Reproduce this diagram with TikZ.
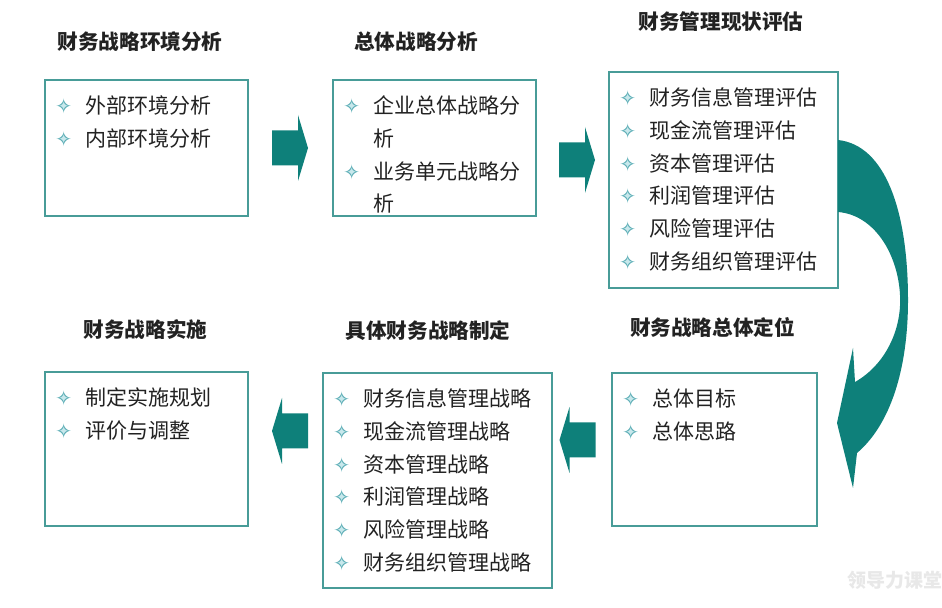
\documentclass[tikz,border=0pt]{standalone}
\usepackage{fontspec}
\setmainfont{Noto Sans CJK SC}
\newfontfamily\symfont{DejaVu Sans}
\usetikzlibrary{calc}

\definecolor{boxline}{RGB}{72,156,152}
\definecolor{arrowfill}{RGB}{14,128,122}
\definecolor{star}{RGB}{90,172,180}
\definecolor{starfill}{RGB}{200,232,236}
\definecolor{ink}{RGB}{34,34,34}

\newcommand\bul{\makebox[15pt][l]{\fontsize{10}{10}\symfont\rlap{\color{starfill}✦}\color{star}✧}}
\newcommand\nobul{\hspace*{15pt}}
\newcommand\listin[2]{%
  \foreach \t [count=\i from 0] in {#2}
    \node[item] (#1-\i) at ([shift={(10,{26+32.8*\i})}]#1.north west) {\t};}

\tikzset{
  box/.style={draw=boxline, line width=1pt, inner sep=0pt, outer sep=0pt, fill=white},
  item/.style={anchor=west, inner sep=0pt, text height=.88em, text depth=.12em,
    text=ink, font=\fontsize{10.5pt}{12pt}\selectfont},
  title/.style={inner sep=0pt, text=ink, font=\fontsize{10.3pt}{12pt}\selectfont\bfseries},
  pics/fwd/.style={code={\fill[arrowfill] (-18,-17.5) -- (8,-17.5) -- (8,-33) -- (18,0)
    -- (8,33) -- (8,17.5) -- (-18,17.5) -- cycle;}},
  pics/back/.style={code={\fill[arrowfill] (18,-17.5) -- (-8,-17.5) -- (-8,-33) -- (-18,0)
    -- (-8,33) -- (-8,17.5) -- (18,17.5) -- cycle;}}
}

\begin{document}
\begin{tikzpicture}[x=0.5pt,y=-0.5pt]
\useasboundingbox[fill=white] (0,0) rectangle (942,608);

% boxes
\node[box, minimum width=101.5pt, minimum height=68pt] (env) at (146.5,148) {};
\node[box, minimum width=101.5pt, minimum height=68pt] (overall) at (434.5,148) {};
\node[box, minimum width=114.5pt, minimum height=108pt] (status) at (723.5,180) {};
\node[box, minimum width=102.5pt, minimum height=76.5pt] (position) at (714.5,449.5) {};
\node[box, minimum width=114.5pt, minimum height=107.5pt] (specific) at (437.5,480.5) {};
\node[box, minimum width=101.5pt, minimum height=77pt] (impl) at (146.5,449) {};

% titles
\node[title] (env-t) at (140,42) {财务战略环境分析};
\node[title] (overall-t) at (416,42) {总体战略分析};
\node[title] (status-t) at (721,22) {财务管理现状评估};
\node[title] (position-t) at (712.5,327) {财务战略总体定位};
\node[title] (specific-t) at (428,331) {具体财务战略制定};
\node[title] (impl-t) at (145.5,330) {财务战略实施};

% items
\listin{env}{\bul 外部环境分析, \bul 内部环境分析}
\listin{overall}{\bul 企业总体战略分, \nobul 析, \bul 业务单元战略分, \nobul 析}
\listin{status}{\bul 财务信息管理评估, \bul 现金流管理评估, \bul 资本管理评估,
  \bul 利润管理评估, \bul 风险管理评估, \bul 财务组织管理评估}
\listin{position}{\bul 总体目标, \bul 总体思路}
\listin{specific}{\bul 财务信息管理战略, \bul 现金流管理战略, \bul 资本管理战略,
  \bul 利润管理战略, \bul 风险管理战略, \bul 财务组织管理战略}
\listin{impl}{\bul 制定实施规划, \bul 评价与调整}

% block arrows
\pic at (290,148) {fwd};
\pic at (577,160) {fwd};
\pic at (577.5,440) {back};
\pic at (290,431) {back};

% curved arrow
\fill[arrowfill] (status.east |- 0,140) .. controls (885,145) and (908,210) .. (908,300)
  .. controls (908,370) and (890,425) .. (857,453) -- (853,488) -- (837,423) -- (853,348)
  -- (855,382) .. controls (885,365) and (902,330) .. (900,295)
  .. controls (898,255) and (875,215) .. (status.east |- 0,212) -- cycle;

\node[text=gray!18, inner sep=0pt, font=\fontsize{9.5pt}{10pt}\selectfont\bfseries] (logo) at (895,580) {领导力课堂};
\end{tikzpicture}
\end{document}
